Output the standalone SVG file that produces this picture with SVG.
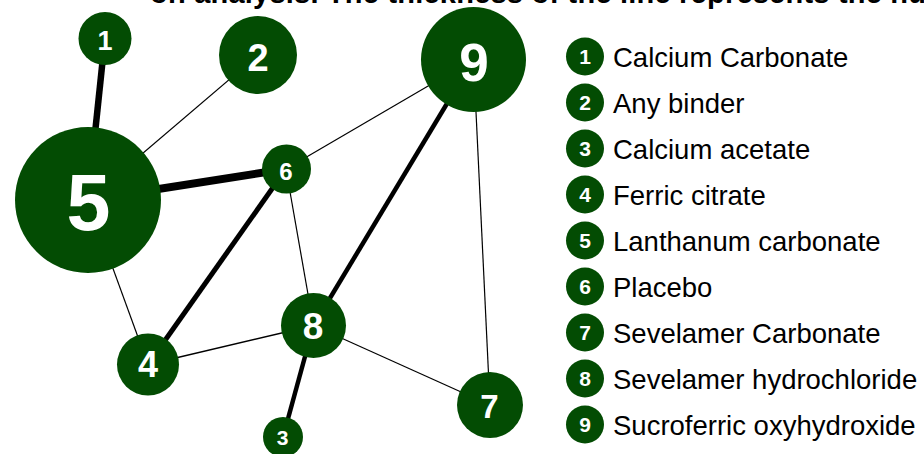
<svg xmlns="http://www.w3.org/2000/svg" width="924" height="454" viewBox="0 0 924 454">
<style>
.n{fill:#034c03}
.l{fill:#fff;font-family:"Liberation Sans",Arial,sans-serif;font-weight:bold;text-anchor:middle}
.e{stroke:#000;stroke-linecap:butt;fill:none}
.t{font-family:"Liberation Sans",Arial,sans-serif;font-size:27.5px;fill:#000}
.title{font-family:"Liberation Sans",Arial,sans-serif;font-size:29px;font-weight:bold;fill:#000}
</style>
<rect width="924" height="454" fill="#fff"/>
<text class="title" x="150" y="3" textLength="776" lengthAdjust="spacing">on analysis. The thickness of the line represents the nu</text>
<g id="connectors">
<line class="e" x1="105" y1="38" x2="88" y2="200" stroke-width="6.5"/>
<line class="e" x1="258" y1="55" x2="88" y2="200" stroke-width="1.2"/>
<line class="e" x1="88" y1="200" x2="286" y2="169" stroke-width="8"/>
<line class="e" x1="286" y1="169" x2="473.5" y2="59.5" stroke-width="1.2"/>
<line class="e" x1="286" y1="169" x2="148" y2="364.5" stroke-width="5"/>
<line class="e" x1="286" y1="169" x2="313.5" y2="325.5" stroke-width="1.2"/>
<line class="e" x1="88" y1="200" x2="148" y2="364.5" stroke-width="1.2"/>
<line class="e" x1="148" y1="364.5" x2="313.5" y2="325.5" stroke-width="1.4"/>
<line class="e" x1="473.5" y1="59.5" x2="313.5" y2="325.5" stroke-width="4.5"/>
<line class="e" x1="473.5" y1="59.5" x2="490" y2="405" stroke-width="1.2"/>
<line class="e" x1="313.5" y1="325.5" x2="490" y2="405" stroke-width="1.2"/>
<line class="e" x1="313.5" y1="325.5" x2="283" y2="437" stroke-width="4.5"/>
</g>
<g id="node1"><circle class="n" cx="105" cy="38.5" r="26.5"/><text class="l" x="105" y="49.5" font-size="27">1</text></g>
<g id="node2"><circle class="n" cx="258" cy="55" r="39"/><text class="l" x="258" y="70.5" font-size="38">2</text></g>
<g id="node3"><circle class="n" cx="283" cy="437" r="20"/><text class="l" x="282.5" y="445" font-size="21">3</text></g>
<g id="node4"><circle class="n" cx="148" cy="364.5" r="31"/><text class="l" x="148" y="377" font-size="36">4</text></g>
<g id="node5"><circle class="n" cx="88" cy="200" r="73"/><text class="l" x="88.5" y="230" font-size="79">5</text></g>
<g id="node6"><circle class="n" cx="286.5" cy="169" r="24.5"/><text class="l" x="286" y="180" font-size="24">6</text></g>
<g id="node7"><circle class="n" cx="490" cy="405" r="33"/><text class="l" x="489.5" y="418" font-size="33">7</text></g>
<g id="node8"><circle class="n" cx="313.5" cy="325.5" r="32.5"/><text class="l" x="313" y="339" font-size="37">8</text></g>
<g id="node9"><circle class="n" cx="473.5" cy="59.5" r="52.5"/><text class="l" x="474" y="81" font-size="53">9</text></g>
<g id="legend">
<g id="leg1"><circle class="n" cx="585" cy="56.5" r="19"/><text class="l" x="585" y="64" font-size="21">1</text><text class="t" x="613" y="67">Calcium Carbonate</text></g>
<g id="leg2"><circle class="n" cx="585" cy="102.5" r="19"/><text class="l" x="585" y="110" font-size="21">2</text><text class="t" x="613" y="113">Any binder</text></g>
<g id="leg3"><circle class="n" cx="585" cy="148.5" r="19"/><text class="l" x="585" y="156" font-size="21">3</text><text class="t" x="613" y="159">Calcium acetate</text></g>
<g id="leg4"><circle class="n" cx="585" cy="194.5" r="19"/><text class="l" x="585" y="202" font-size="21">4</text><text class="t" x="613" y="205">Ferric citrate</text></g>
<g id="leg5"><circle class="n" cx="585" cy="240.5" r="19"/><text class="l" x="585" y="248" font-size="21">5</text><text class="t" x="613" y="251">Lanthanum carbonate</text></g>
<g id="leg6"><circle class="n" cx="585" cy="286.5" r="19"/><text class="l" x="585" y="294" font-size="21">6</text><text class="t" x="613" y="297">Placebo</text></g>
<g id="leg7"><circle class="n" cx="585" cy="332.5" r="19"/><text class="l" x="585" y="340" font-size="21">7</text><text class="t" x="613" y="343">Sevelamer Carbonate</text></g>
<g id="leg8"><circle class="n" cx="585" cy="378.5" r="19"/><text class="l" x="585" y="386" font-size="21">8</text><text class="t" x="613" y="389">Sevelamer hydrochloride</text></g>
<g id="leg9"><circle class="n" cx="585" cy="424.5" r="19"/><text class="l" x="585" y="432" font-size="21">9</text><text class="t" x="613" y="435">Sucroferric oxyhydroxide</text></g>
</g>
</svg>
